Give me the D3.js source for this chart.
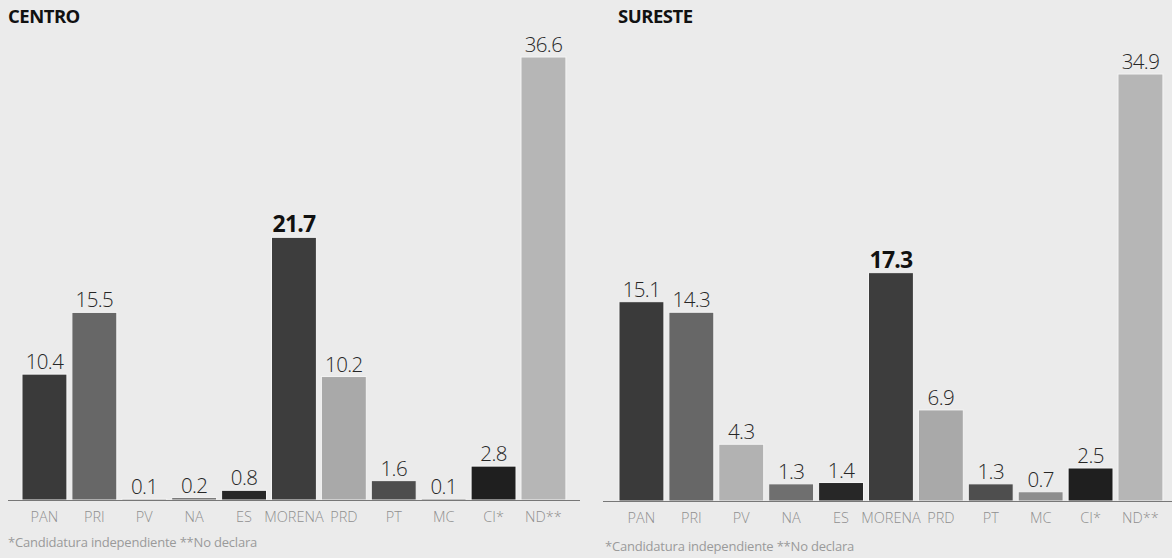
<!DOCTYPE html>
<html>
<head>
<meta charset="utf-8">
<script src="https://cdn.jsdelivr.net/npm/d3@7"></script>
<style>
  html, body { margin: 0; padding: 0; background: #ebebeb; }
  svg { display: block; }
</style>
</head>
<body>
<svg id="chart" width="1172" height="558"></svg>
<script>
const categories = ["PAN", "PRI", "PV", "NA", "ES", "MORENA", "PRD", "PT", "MC", "CI*", "ND**"];
const centroValues = [10.4, 15.5, 0.1, 0.2, 0.8, 21.7, 10.2, 1.6, 0.1, 2.8, 36.6];
const suresteValues = [15.1, 14.3, 4.3, 1.3, 1.4, 17.3, 6.9, 1.3, 0.7, 2.5, 34.9];
const valueLabels = {
  centro: ["10.4", "15.5", "0.1", "0.2", "0.8", "21.7", "10.2", "1.6", "0.1", "2.8", "36.6"],
  sureste: ["15.1", "14.3", "4.3", "1.3", "1.4", "17.3", "6.9", "1.3", "0.7", "2.5", "34.9"]
};
const panelTitles = ["CENTRO", "SURESTE"];
const footnote = "*Candidatura independiente **No declara";

const barColor = d3.scaleOrdinal()
  .domain(categories)
  .range(["#3a3a3a", "#676767", "#b2b2b2", "#6f6f6f", "#272727", "#3d3d3d",
          "#a9a9a9", "#4e4e4e", "#8e8e8e", "#1f1f1f", "#b6b6b6"]);

const svg = d3.select("#chart");
svg.append("rect").attr("width", 1172).attr("height", 558).attr("fill", "#ebebeb");

const panels = [
  { title: panelTitles[0], values: centroValues, labels: valueLabels.centro,
    titleX: 8, xRange: [19.5, 568.4], axisX: [8, 580], base: 500,
    yDomainTop: 36.6, yTop: 57, footX: 8, footY: 547 },
  { title: panelTitles[1], values: suresteValues, labels: valueLabels.sureste,
    titleX: 618, xRange: [616.5, 1165.4], axisX: [603, 1172], base: 501,
    yDomainTop: 32.35, yTop: 74, footX: 605, footY: 551 }
];

panels.forEach(p => {
  const g = svg.append("g");
  const x = d3.scaleBand().domain(categories).range(p.xRange)
    .paddingInner(0.1).paddingOuter(0.05);
  const y = d3.scaleLinear().domain([0, p.yDomainTop]).range([p.base, p.yTop]).clamp(true);
  const data = categories.map((c, i) => ({ c, v: p.values[i], label: p.labels[i] }));

  g.append("text")
    .attr("x", p.titleX).attr("y", 23)
    .attr("font-family", "'Open Sans', sans-serif")
    .attr("font-weight", 700).attr("font-size", 18.5)
    .attr("letter-spacing", -0.5)
    .attr("fill", "#111")
    .text(p.title);

  g.selectAll("rect.bar").data(data).enter().append("rect")
    .attr("class", "bar")
    .attr("x", d => x(d.c))
    .attr("width", x.bandwidth())
    .attr("y", d => y(d.v))
    .attr("height", d => Math.max(p.base - y(d.v), 1.5))
    .attr("fill", d => barColor(d.c))
    .attr("stroke", "#f4f4f4")
    .attr("stroke-width", 1);

  g.selectAll("text.val").data(data).enter().append("text")
    .attr("class", "val")
    .attr("x", d => x(d.c) + x.bandwidth() / 2)
    .attr("y", d => y(d.v) - 5)
    .attr("text-anchor", "middle")
    .attr("font-family", "'Open Sans', sans-serif")
    .attr("font-size", d => d.c === "MORENA" ? 23 : 20.5)
    .attr("letter-spacing", d => d.c === "MORENA" ? -0.8 : -0.6)
    .attr("font-weight", d => d.c === "MORENA" ? 700 : 300)
    .attr("fill", d => d.c === "MORENA" ? "#111" : "#262626")
    .text(d => d.label);

  g.append("line")
    .attr("x1", p.axisX[0]).attr("x2", p.axisX[1])
    .attr("y1", p.base + 0.5).attr("y2", p.base + 0.5)
    .attr("stroke", "#777").attr("stroke-width", 1.2);

  const axis = g.append("g")
    .attr("transform", `translate(0,${p.base})`)
    .call(d3.axisBottom(x).tickSize(0).tickPadding(12));
  axis.select(".domain").remove();
  axis.selectAll("text")
    .attr("font-family", "'Open Sans', sans-serif")
    .attr("font-size", 14.5)
    .attr("font-weight", 300)
    .attr("letter-spacing", 0)
    .attr("fill", "#8f8f8f");

  g.append("text")
    .attr("x", p.footX).attr("y", p.footY)
    .attr("font-family", "'Open Sans', sans-serif")
    .attr("font-size", 13)
    .attr("letter-spacing", -0.2)
    .attr("fill", "#9a9a9a")
    .text(footnote);
});
</script>
</body>
</html>
